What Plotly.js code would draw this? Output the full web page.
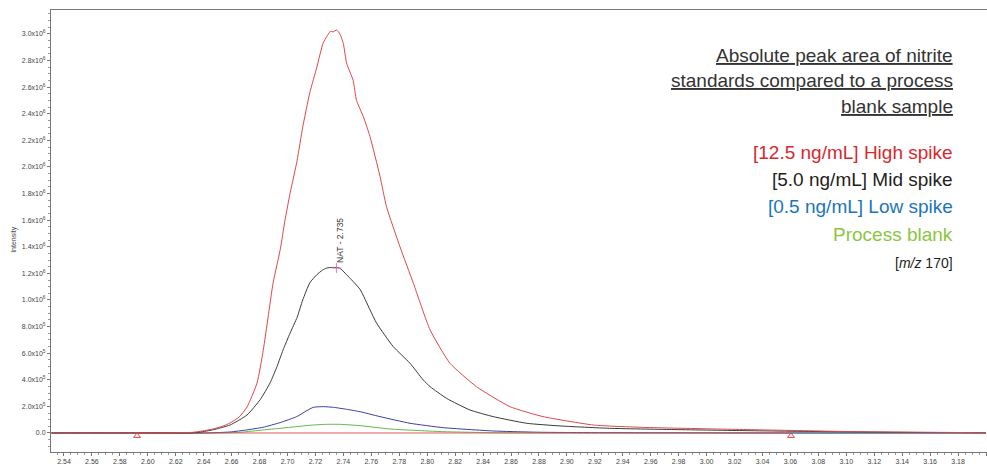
<!DOCTYPE html>
<html>
<head>
<meta charset="utf-8">
<script src="https://cdn.plot.ly/plotly-3.0.1.min.js"></script>
<style>html,body{margin:0;padding:0;background:#fff;}#chart{width:987px;height:467px;}</style>
</head>
<body>
<div id="chart"></div>
<script>
// ---- data (retention time in min, intensity) ----
const highX = [2.531, 2.5602, 2.5906, 2.6108, 2.626, 2.632, 2.6391, 2.6467, 2.6533, 2.6589, 2.6654, 2.6710, 2.6782, 2.6826, 2.6861, 2.6897, 2.6948, 2.6982, 2.7018, 2.7069, 2.7109, 2.716, 2.7210, 2.7254, 2.7281, 2.7307, 2.7326, 2.7352, 2.7375, 2.7399, 2.7423, 2.747, 2.7494, 2.7542, 2.759, 2.7662, 2.7709, 2.7805, 2.7901, 2.8021, 2.8163, 2.8353, 2.8592, 2.8829, 2.9189, 2.9547, 3.0073, 3.0457, 3.1064, 3.162, 3.2];
const highY = [0, 0, 0, 0, 2e3, 5e3, 1.5e4, 3e4, 5e4, 7.5e4, 1.2e5, 1.95e5, 3.76e5, 6.2e5, 8.7e5, 1.13e6, 1.38e6, 1.6e6, 1.8e6, 2.05e6, 2.30e6, 2.56e6, 2.75e6, 2.93e6, 2.98e6, 3.02e6, 3.015e6, 3.03e6, 3.0e6, 2.93e6, 2.78e6, 2.65e6, 2.5e6, 2.38e6, 2.23e6, 1.93e6, 1.70e6, 1.40e6, 1.125e6, 7.74e5, 5.24e5, 3.48e5, 1.98e5, 1.23e5, 6e4, 4.2e4, 3e4, 2.2e4, 1e4, 5e3, 2e3];

const midX = [2.531, 2.6007, 2.626, 2.6351, 2.6462, 2.6589, 2.671, 2.6804, 2.6875, 2.6925, 2.6968, 2.7018, 2.7069, 2.7109, 2.716, 2.721, 2.7251, 2.7281, 2.7322, 2.7373, 2.7423, 2.7519, 2.7591, 2.7638, 2.7757, 2.7877, 2.7972, 2.8021, 2.8139, 2.8306, 2.8472, 2.8712, 2.895, 2.9306, 2.9749, 3.0255, 3.0862, 3.1469, 3.2];
const midY = [0, 0, 0, 3e3, 2.3e4, 6e4, 1.35e5, 2.5e5, 3.76e5, 5.0e5, 6.24e5, 7.5e5, 8.7e5, 1.0e6, 1.13e6, 1.19e6, 1.225e6, 1.24e6, 1.245e6, 1.24e6, 1.19e6, 1.08e6, 9.25e5, 8.25e5, 6.49e5, 5.24e5, 3.98e5, 3.48e5, 2.6e5, 1.73e5, 1.23e5, 7.3e4, 5.3e4, 3.5e4, 2.6e4, 1.8e4, 1e4, 4e3, 2e3];

const lowX = [2.531, 2.6007, 2.6411, 2.6589, 2.6708, 2.6826, 2.6947, 2.7066, 2.7138, 2.7185, 2.7256, 2.7328, 2.7423, 2.7519, 2.7662, 2.7877, 2.8115, 2.8472, 2.8829, 2.9547, 3.0558, 3.2];
const lowY = [0, 0, 0, 7.5e3, 2.3e4, 4.3e4, 7.8e4, 1.23e5, 1.68e5, 1.93e5, 1.98e5, 1.93e5, 1.78e5, 1.6e5, 1.23e5, 7.3e4, 4e4, 1.5e4, 5e3, 2e3, 0, 0];

const blankX = [2.531, 2.6007, 2.6462, 2.6661, 2.6826, 2.6947, 2.7066, 2.7185, 2.7281, 2.7375, 2.7519, 2.7662, 2.7757, 2.8115, 2.8472, 2.9041, 3.0053, 3.2];
const blankY = [0, 0, 0, 5e3, 2.3e4, 3.5e4, 4.8e4, 6e4, 6.5e4, 6.5e4, 5.5e4, 3.8e4, 2.8e4, 1e4, 2e3, 0, 0, 0];

const baselineX = [2.5923, 3.0604];
const baselineY = [0, 0];
const markerX = [2.5923, 3.0604];
const markerY = [-2.2e4, -2.2e4];

const peakLabel = "NAT - 2.735";
const peakX = [2.735];
const peakY = [1.24e6];

const yTickVals = [0, 2e5, 4e5, 6e5, 8e5, 1e6, 1.2e6, 1.4e6, 1.6e6, 1.8e6, 2e6, 2.2e6, 2.4e6, 2.6e6, 2.8e6, 3e6];
const yTickText = ["0.0", "2.0x10<sup>5</sup>", "4.0x10<sup>5</sup>", "6.0x10<sup>5</sup>", "8.0x10<sup>5</sup>",
  "1.0x10<sup>6</sup>", "1.2x10<sup>6</sup>", "1.4x10<sup>6</sup>", "1.6x10<sup>6</sup>", "1.8x10<sup>6</sup>",
  "2.0x10<sup>6</sup>", "2.2x10<sup>6</sup>", "2.4x10<sup>6</sup>", "2.6x10<sup>6</sup>", "2.8x10<sup>6</sup>", "3.0x10<sup>6</sup>"];

const titleLines = ["Absolute peak area of nitrite", "standards compared to a process", "blank sample"];
const legendLines = ["[12.5 ng/mL] High spike", "[5.0 ng/mL] Mid spike", "[0.5 ng/mL] Low spike", "Process blank"];
const legendColors = ["#d7282f", "#231f20", "#1b75bb", "#8cc63f"];
const massLabel = "[<i>m/z</i> 170]";
const yTitle = "Intensity";
const xTitle = "Min";

const FONT = "Liberation Sans, Arial, sans-serif";
const SM = 0.5;

const traces = [
  {x: blankX, y: blankY, mode: "lines", line: {color: "#5cb94a", width: 1, shape: "spline", smoothing: SM}, hoverinfo: "skip"},
  {x: lowX, y: lowY, mode: "lines", line: {color: "#3b3ea0", width: 1, shape: "spline", smoothing: SM}, hoverinfo: "skip"},
  {x: baselineX, y: baselineY, mode: "lines", line: {color: "#e05a5e", width: 1}, hoverinfo: "skip"},
  {x: midX, y: midY, mode: "lines", line: {color: "#3a3a3a", width: 1, shape: "spline", smoothing: SM}, hoverinfo: "skip"},
  {x: highX, y: highY, mode: "lines", line: {color: "#e0474c", width: 1, shape: "spline", smoothing: SM}, hoverinfo: "skip"},
  {x: markerX, y: markerY, mode: "markers", marker: {symbol: "triangle-up-open", size: 6, color: "#e0474c", line: {width: 1, color: "#e0474c"}}, hoverinfo: "skip"},
  {x: peakX, y: peakY, mode: "markers", marker: {symbol: "cross-thin-open", size: 7, line: {width: 1, color: "#333"}}, hoverinfo: "skip"}
];

const annotations = [];
const titleY = [0.896, 0.8416, 0.7828];
titleLines.forEach((t, i) => annotations.push({
  text: "<u>" + t + "</u>", xref: "paper", yref: "paper", x: 0.9658, y: titleY[i],
  xanchor: "right", yanchor: "middle", showarrow: false,
  font: {family: FONT, size: 19, color: "#333"}
}));
const legY = [0.6787, 0.6154, 0.5543, 0.491];
legendLines.forEach((t, i) => annotations.push({
  text: t, xref: "paper", yref: "paper", x: 0.9658, y: legY[i],
  xanchor: "right", yanchor: "middle", showarrow: false,
  font: {family: FONT, size: 19, color: legendColors[i]}
}));
annotations.push({text: massLabel, xref: "paper", yref: "paper", x: 0.9658, y: 0.4276,
  xanchor: "right", yanchor: "middle", showarrow: false, font: {family: FONT, size: 14, color: "#231f20"}});
annotations.push({text: peakLabel, x: peakX[0], y: peakY[0], xref: "x", yref: "y", textangle: -90,
  xanchor: "center", yanchor: "bottom", yshift: 3, xshift: 3, showarrow: false,
  font: {family: FONT, size: 8.5, color: "#333"}});
annotations.push({text: yTitle, xref: "paper", yref: "paper", x: -0.0395, y: 0.48, textangle: -90,
  xanchor: "center", yanchor: "middle", showarrow: false, font: {family: FONT, size: 7, color: "#444"}});
annotations.push({text: xTitle, xref: "paper", yref: "paper", x: 0.4915, y: -0.032,
  xanchor: "center", yanchor: "top", showarrow: false, font: {family: FONT, size: 8, color: "#444"}});

const layout = {
  width: 987, height: 467,
  margin: {l: 51, r: 0, t: 10, b: 15, pad: 0},
  paper_bgcolor: "#fff", plot_bgcolor: "#fff",
  showlegend: false,
  font: {family: FONT, size: 7, color: "#444"},
  xaxis: {
    range: [2.5307, 3.2007], tickmode: "linear", tick0: 2.54, dtick: 0.02, tickformat: ".2f",
    showgrid: false, zeroline: false, showline: true, linecolor: "#777", linewidth: 1, mirror: true,
    ticks: "outside", ticklen: 3, tickcolor: "#777", tickfont: {family: FONT, size: 7, color: "#444"},
    minor: {tickmode: "linear", tick0: 2.54, dtick: 0.005, ticks: "outside", ticklen: 2, tickcolor: "#999", showgrid: false}
  },
  yaxis: {
    range: [-1.43e5, 3.18e6], tickmode: "array", tickvals: yTickVals, ticktext: yTickText,
    showgrid: false, zeroline: false, showline: true, linecolor: "#777", linewidth: 1,
    ticks: "outside", ticklen: 3, tickcolor: "#777", tickfont: {family: FONT, size: 7, color: "#444"},
    minor: {tickmode: "linear", tick0: 0, dtick: 50000, ticks: "outside", ticklen: 2, tickcolor: "#999", showgrid: false}
  },
  annotations: annotations
};

Plotly.newPlot("chart", traces, layout, {staticPlot: true, displayModeBar: false});
</script>
</body>
</html>
